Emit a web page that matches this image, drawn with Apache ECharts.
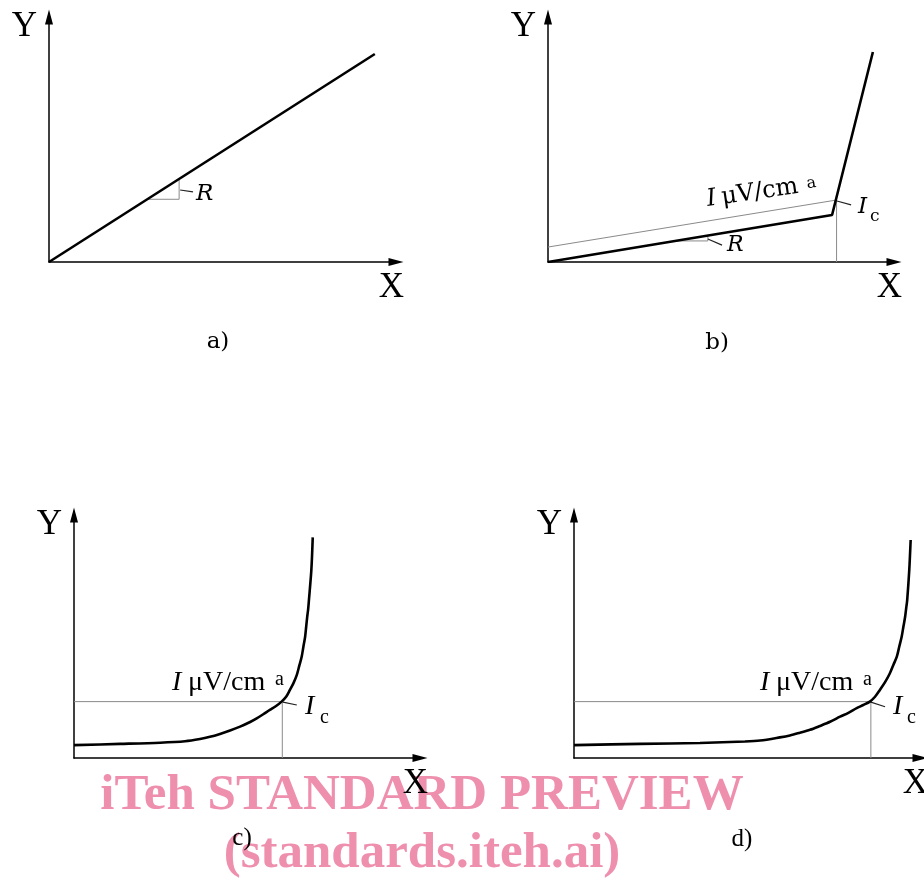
<!DOCTYPE html>
<html>
<head>
<meta charset="utf-8">
<title>Critical current criteria</title>
<script src="https://cdn.jsdelivr.net/npm/echarts@6/dist/echarts.min.js"></script>
<style>
html, body { margin: 0; padding: 0; background: #fff; }
#chart { width: 924px; height: 881px; }
</style>
</head>
<body>
<div id="chart"></div>
<script>
// every panel uses a 0..100 scale on both axes
const axisNames = ['X', 'Y'];
const captions = ['a)', 'b)', 'c)', 'd)'];

// a) linear
const aLine = [[0, 0], [93.9, 84.9]];
const aSlope = [[28.2, 25.6], [37.5, 25.6], [37.5, 33.9]];
const aLeaderR = [[37.8, 29.4], [41.5, 28.6]];

// b) linear with a kink, offset criterion
const bCurve = [[0, 0], [82.1, 19.2], [93.9, 85.7]];
const bCriterion = [[0, 6.1], [83.4, 25.3]];
const bIcDrop = [[83.4, 0], [83.4, 25.3]];
const bSlope = [[36.8, 8.6], [46.2, 8.6], [46.2, 10.8]];
const bLeaderR = [[46.2, 9.4], [50.3, 6.9]];
const bLeaderIc = [[83.5, 24.9], [87.6, 23.3]];

// c) smooth transition
const cCurve = [[0, 5.3], [13.3, 5.8], [24.9, 6.3], [32.1, 6.9], [36.4, 7.8], [39.3, 8.7],
  [42.2, 9.9], [45.1, 11.3], [48.0, 12.9], [50.9, 14.8], [52.8, 16.3], [54.7, 18.0],
  [56.6, 19.8], [58.4, 21.4], [60.0, 23.2], [61.3, 25.2], [62.4, 28.0], [63.4, 30.7],
  [64.4, 34.2], [65.1, 37.9], [65.8, 41.7], [66.3, 45.8], [66.8, 49.9], [67.1, 54.0],
  [67.4, 58.1], [67.7, 61.6], [67.9, 65.0], [68.6, 77.4], [69.0, 90.8]];
const cCriterion = [[0, 23.2], [60.2, 23.2]];
const cIcDrop = [[60.2, 0], [60.2, 23.2]];
const cLeaderIc = [[60.4, 23.0], [64.4, 21.8]];

// d) smooth transition, later
const dCurve = [[0, 5.3], [19.1, 5.8], [36.4, 6.2], [49.4, 6.8], [53.8, 7.2], [59.5, 8.5],
  [62.4, 9.3], [65.3, 10.4], [68.2, 11.6], [71.1, 13.2], [74.0, 14.9], [76.9, 17.0],
  [79.3, 18.6], [81.7, 20.5], [83.6, 21.8], [85.5, 23.2], [87.0, 25.2], [88.4, 28.0],
  [89.9, 31.2], [91.3, 34.9], [92.3, 38.3], [93.3, 41.7], [94.0, 45.8], [94.7, 49.9],
  [95.2, 54.0], [95.7, 58.1], [96.0, 61.6], [96.3, 65.0], [96.9, 77.4], [97.3, 89.7]];
const dCriterion = [[0, 23.2], [85.8, 23.2]];
const dIcDrop = [[85.8, 0], [85.8, 23.2]];
const dLeaderIc = [[85.8, 23.0], [89.9, 21.1]];

const SERIF = '"Liberation Serif", "Times New Roman", serif';
const MATH = '"DejaVu Serif", serif';

const THICK = { color: '#000', width: 2.6 };
const THIN = { color: '#8a8a8a', width: 1 };
const LEADER = { color: '#222', width: 1.2 };

const grids = [
  { left: 49, top: 17, width: 347, height: 245 },
  { left: 548, top: 17, width: 346, height: 245 },
  { left: 74, top: 515, width: 346, height: 243 },
  { left: 574, top: 515, width: 346, height: 243 }
].map(g => Object.assign({ outerBoundsMode: 'none', containLabel: false }, g));

const axisBase = (i) => ({
  gridIndex: i,
  type: 'value',
  min: 0,
  max: 100,
  axisLine: {
    show: true,
    onZero: false,
    symbol: ['none', 'triangle'],
    symbolSize: [8, 15],
    lineStyle: { color: '#000', width: 1.5 }
  },
  axisTick: { show: false },
  axisLabel: { show: false },
  splitLine: { show: false },
  nameLocation: 'end'
});

const xAxes = grids.map((g, i) => Object.assign(axisBase(i), {
  name: axisNames[0],
  nameGap: 8,
  nameTextStyle: { fontFamily: SERIF, fontSize: 35, color: '#000', align: 'right', verticalAlign: 'top', padding: [8, 0, 0, 0] }
}));
const yAxes = grids.map((g, i) => Object.assign(axisBase(i), {
  name: axisNames[1],
  nameGap: 8,
  nameTextStyle: { fontFamily: SERIF, fontSize: 35, color: '#000', align: 'right', verticalAlign: 'top', padding: [0, 12, 0, 0] }
}));

function seg(grid, data, style, smooth) {
  return {
    type: 'line',
    xAxisIndex: grid,
    yAxisIndex: grid,
    data: data,
    showSymbol: false,
    symbol: 'none',
    silent: true,
    smooth: smooth ? 0.3 : false,
    lineStyle: style,
    z: style === THICK ? 4 : 3
  };
}

const series = [
  seg(0, aLine, THICK), seg(0, aSlope, THIN), seg(0, aLeaderR, LEADER),
  seg(1, bCurve, THICK), seg(1, bCriterion, THIN), seg(1, bIcDrop, THIN),
  seg(1, bSlope, THIN), seg(1, bLeaderR, LEADER), seg(1, bLeaderIc, LEADER),
  seg(2, cCurve, THICK, true), seg(2, cCriterion, THIN), seg(2, cIcDrop, THIN), seg(2, cLeaderIc, LEADER),
  seg(3, dCurve, THICK, true), seg(3, dCriterion, THIN), seg(3, dIcDrop, THIN), seg(3, dLeaderIc, LEADER)
];

// text placed by its baseline
function label(x, baseline, text, size, family, extra) {
  const st = Object.assign({ text: text, fill: '#000', align: 'left', verticalAlign: 'middle',
    font: size + 'px ' + family }, extra || {});
  if (st.italic) { st.font = 'italic ' + st.font; delete st.italic; }
  return { type: 'text', x: x, y: baseline - 0.34 * size, z: 50, style: st };
}

const graphic = [
  // watermark, under everything else
  { type: 'text', x: 422, y: 813 - 0.34 * 51, z: -1,
    style: { text: 'iTeh STANDARD PREVIEW', fill: '#ef8fae', align: 'center', verticalAlign: 'middle', font: 'bold 51px ' + SERIF } },
  { type: 'text', x: 422, y: 871 - 0.34 * 51, z: -1,
    style: { text: '(standards.iteh.ai)', fill: '#ef8fae', align: 'center', verticalAlign: 'middle', font: 'bold 51px ' + SERIF } },

  // a)
  label(196, 201.5, 'R', 23, MATH, { italic: true }),
  label(218, 350, captions[0], 23, MATH, { align: 'center' }),

  // b)
  label(727, 253, 'R', 22, MATH, { italic: true }),
  label(858, 215, 'I', 23, MATH, { italic: true }),
  label(870, 222, 'c', 17, MATH),
  { type: 'group', x: 708, y: 208, rotation: 0.145, children: [
    label(0, 0, 'I', 24, MATH, { italic: true }),
    label(15, 0, 'μV/cm', 24, MATH),
    label(101, -4, 'a', 16, MATH)
  ] },
  label(717, 351, captions[1], 23, MATH, { align: 'center' }),

  // c)
  label(172, 692, 'I', 28, SERIF, { italic: true }),
  label(188, 692, 'μV/cm', 28, SERIF),
  label(275, 687, 'a', 20, SERIF),
  label(305, 716.5, 'I', 28, SERIF, { italic: true }),
  label(320, 725, 'c', 20, SERIF),
  label(242, 847, captions[2], 25, SERIF, { align: 'center' }),

  // d)
  label(760, 692, 'I', 28, SERIF, { italic: true }),
  label(776, 692, 'μV/cm', 28, SERIF),
  label(863, 687, 'a', 20, SERIF),
  label(893, 716.5, 'I', 28, SERIF, { italic: true }),
  label(907, 725, 'c', 20, SERIF),
  label(742, 848, captions[3], 25, SERIF, { align: 'center' })
];

const myChart = echarts.init(document.getElementById('chart'), null, { renderer: 'canvas' });
myChart.setOption({
  animation: false,
  backgroundColor: '#fff',
  grid: grids,
  xAxis: xAxes,
  yAxis: yAxes,
  series: series,
  graphic: graphic
});
window.onresize = function () { myChart.resize(); };
</script>
</body>
</html>
